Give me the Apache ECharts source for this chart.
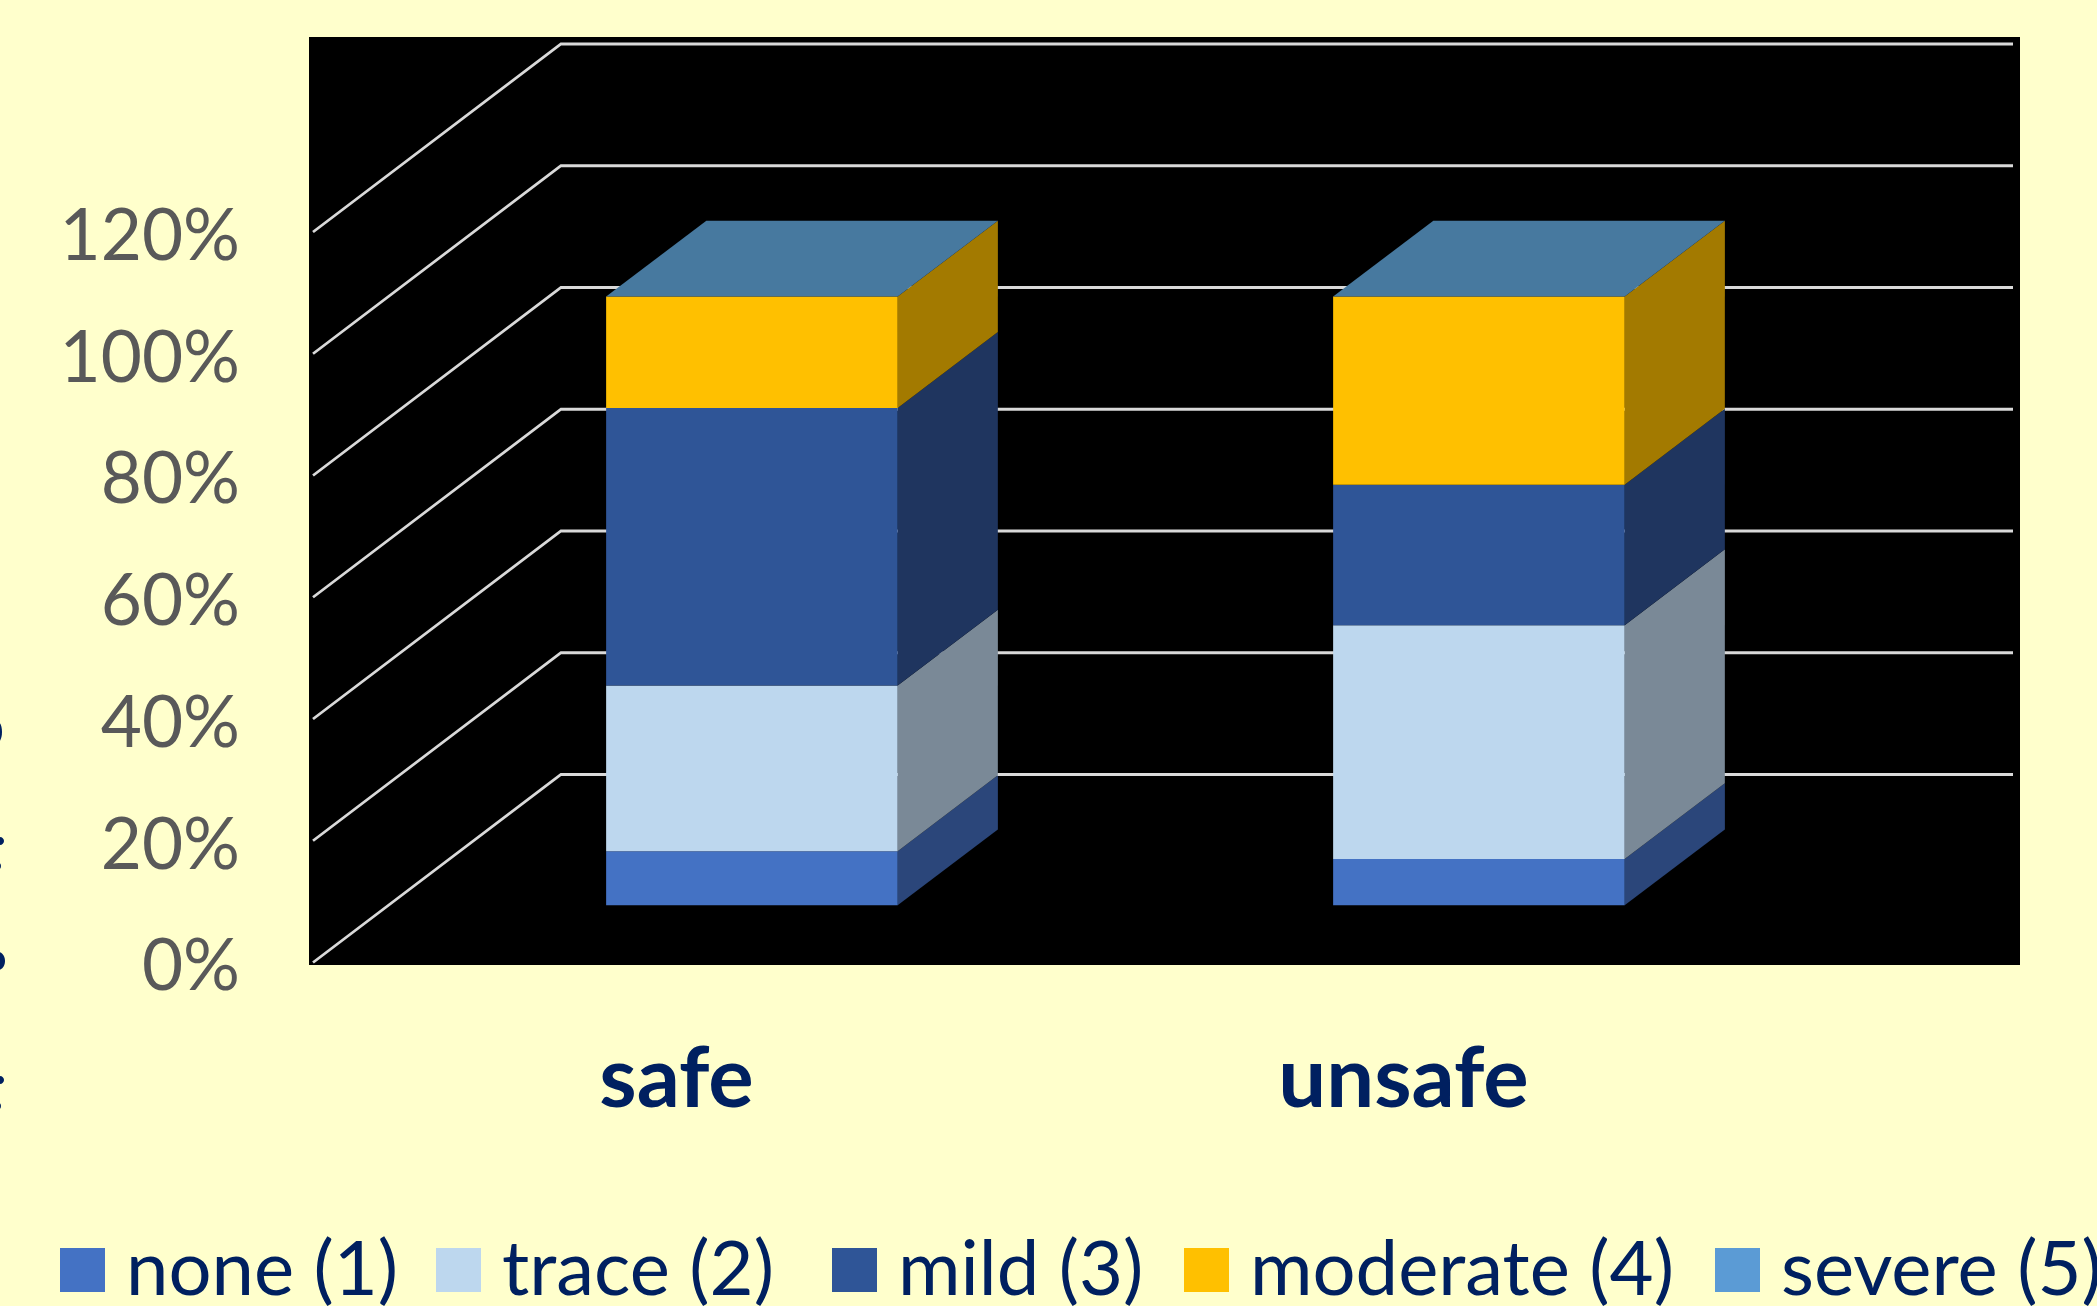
<!DOCTYPE html>
<html>
<head>
<meta charset="utf-8">
<style>html,body{margin:0;padding:0;background:#FFFFCC}#chart{width:2097px;height:1306px}</style>
<script src="https://cdn.jsdelivr.net/npm/echarts@6/dist/echarts.min.js"></script>
</head>
<body>
<div id="chart"></div>
<script>
// Percentage of each grade inside the two groups.
const categories = ['safe', 'unsafe'];
const seriesNames = ['none (1)', 'trace (2)', 'mild (3)', 'moderate (4)', 'severe (5)'];
const noneValues = [8.9, 7.6];
const traceValues = [27.2, 38.4];
const mildValues = [45.6, 23.1];
const moderateValues = [18.3, 30.9];
const severeValues = [0, 0];
const gridTicks = [0, 20, 40, 60, 80, 100, 120];

const frontColors = ['#4472C4', '#BDD7EE', '#2F5597', '#FFC000', '#5B9BD5'];
const sideColors = ['#2B467A', '#7A8997', '#1F355F', '#A37A00', '#3E6E99'];
const capColor = '#47799F';
const legendLeft = [60, 436, 832, 1184, 1715];

// Oblique projection: how far the floor recedes, and where a column sits on it.
const FLOOR_DX = 248, FLOOR_DY = -188;
const COL_FRONT = 0.304, COL_BACK = 0.708;
const WALL_INSET = 2;

const valuesBySeries = [noneValues, traceValues, mildValues, moderateValues, severeValues];
const running = categories.map(() => 0);

function wallGridItem(params, api) {
  const cs = params.coordSys;
  const y = api.coord([categories[0], api.value(1)])[1];
  return {
    type: 'polyline',
    shape: { points: [
      [cs.x, y],
      [cs.x + FLOOR_DX, y + FLOOR_DY],
      [cs.x + cs.width + FLOOR_DX - WALL_INSET, y + FLOOR_DY]
    ] },
    style: { stroke: '#D9D9D9', lineWidth: 2.8, fill: null },
    silent: true
  };
}

function columnItem(seriesIndex) {
  return function (params, api) {
    const low = api.coord([api.value(0), api.value(1)]);
    const high = api.coord([api.value(0), api.value(2)]);
    const half = api.size([1, 0])[0] * 0.2005;
    const x0 = low[0] - half + COL_FRONT * FLOOR_DX;
    const x1 = low[0] + half + COL_FRONT * FLOOR_DX;
    const yLow = low[1] + COL_FRONT * FLOOR_DY;
    const yHigh = high[1] + COL_FRONT * FLOOR_DY;
    const dx = (COL_BACK - COL_FRONT) * FLOOR_DX;
    const dy = (COL_BACK - COL_FRONT) * FLOOR_DY;
    const faces = [
      { type: 'polygon', shape: { points: [[x1, yLow], [x1 + dx, yLow + dy], [x1 + dx, yHigh + dy], [x1, yHigh]] },
        style: { fill: sideColors[seriesIndex] } },
      { type: 'rect', shape: { x: x0, y: yHigh, width: x1 - x0, height: yLow - yHigh },
        style: { fill: api.visual('color') } }
    ];
    // Only the last layer of the stack shows its upper face.
    if (seriesIndex === seriesNames.length - 1) {
      faces.push({ type: 'polygon', shape: { points: [[x0, yHigh], [x1, yHigh], [x1 + dx, yHigh + dy], [x0 + dx, yHigh + dy]] },
        style: { fill: capColor } });
    }
    return { type: 'group', children: faces };
  };
}

const columnSeries = seriesNames.map((name, s) => ({
  type: 'custom',
  name: name,
  coordinateSystem: 'cartesian2d',
  clip: false,
  z: 3 + s,
  itemStyle: { color: frontColors[s] },
  encode: { x: 0, y: [1, 2] },
  renderItem: columnItem(s),
  data: categories.map((c, i) => {
    const start = running[i];
    running[i] += valuesBySeries[s][i];
    return [c, start, running[i]];
  })
}));

// Slivers of neighbouring slide text along the left edge.
const edgeMarks = [[-2, 732, 4, 10], [0, 841, 4, 4], [-3, 866, 4, 4], [-2, 961, 7, 9], [0, 1080, 4, 4], [-3, 1106, 4, 4]];

const option = {
  backgroundColor: '#FFFFCC',
  animation: false,
  textStyle: { fontFamily: 'Lato' },
  graphic: { elements: [
    { type: 'rect', z: -10, silent: true, shape: { x: 309, y: 37, width: 1711, height: 928 }, style: { fill: '#000000' } }
  ].concat(edgeMarks.map(m => ({
    type: 'ellipse', z: -10, silent: true,
    shape: { cx: m[0], cy: m[1], rx: m[2], ry: m[3] },
    style: { fill: '#002060' }
  }))) },
  grid: { left: 313, top: 232, width: 1454, height: 730.5 },
  xAxis: {
    type: 'category',
    data: categories,
    axisLine: { show: false },
    axisTick: { show: false },
    axisLabel: { color: '#002060', fontFamily: 'Lato', fontWeight: 'bold', fontSize: 85, margin: 75 }
  },
  yAxis: {
    type: 'value',
    min: 0,
    max: 120,
    interval: 20,
    axisLine: { show: false },
    axisTick: { show: false },
    splitLine: { show: false },
    axisLabel: { formatter: '{value}%', color: '#595959', fontFamily: 'Lato', fontSize: 71, margin: 73, verticalAlign: 'top', lineHeight: 10 }
  },
  legend: seriesNames.map((name, s) => ({
    data: [name],
    left: legendLeft[s],
    top: 1232,
    padding: 0,
    icon: 'rect',
    itemWidth: 45,
    itemHeight: 44,
    selectedMode: false,
    textStyle: { color: '#002060', fontFamily: 'Lato', fontSize: 76, padding: [0, 0, 0, 16] }
  })),
  series: [{
    type: 'custom',
    name: 'wall grid',
    coordinateSystem: 'cartesian2d',
    clip: false,
    z: 1,
    silent: true,
    encode: { x: 0, y: 1 },
    renderItem: wallGridItem,
    data: gridTicks.map(t => [categories[0], t])
  }].concat(columnSeries)
};

echarts.init(document.getElementById('chart'), null, { renderer: 'canvas' }).setOption(option);
</script>
</body>
</html>
